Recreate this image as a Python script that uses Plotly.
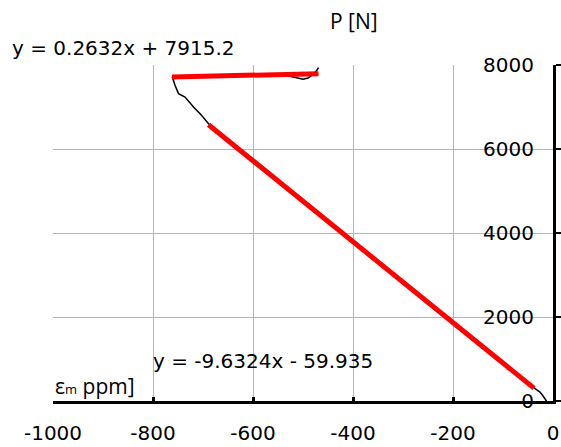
import plotly.graph_objects as go

# Measured curve (strain in ppm vs load in N)
strain = [-13, -17, -21, -26, -36, -100, -200, -300, -400, -500, -600, -689,
          -703, -719, -736, -749, -756, -761, -700, -600, -540, -515, -500,
          -490, -478, -472, -469]
load = [0, 57, 136, 214, 295, 900, 1870, 2830, 3790, 4760, 5720, 6600,
        6802, 7000, 7238, 7319, 7517, 7700, 7730, 7757, 7765, 7700, 7660,
        7690, 7790, 7880, 7940]

# Trend lines (end points)
trend1_x = [-762, -469]
trend1_y = [7715, 7792]
trend2_x = [-689, -38]
trend2_y = [6577, 306]

x_ticks = [-1000, -800, -600, -400, -200, 0]
x_labels = ["-1000", "-800", "-600", "-400", "-200", "0"]
y_ticks = [0, 2000, 4000, 6000, 8000]
y_labels = ["0", "2000", "4000", "6000", "8000"]

eq1 = "y = 0.2632x + 7915.2"
eq2 = "y = -9.6324x - 59.935"
y_title = "P [N]"
x_title = "ε<span style='font-size:13px'>m</span> ppm]"

fig = go.Figure()
fig.add_trace(go.Scatter(x=strain, y=load, mode="lines",
                         line=dict(color="black", width=1.5)))
fig.add_trace(go.Scatter(x=trend1_x, y=trend1_y, mode="lines",
                         line=dict(color="#ff0000", width=5)))
fig.add_trace(go.Scatter(x=trend2_x, y=trend2_y, mode="lines",
                         line=dict(color="#ff0000", width=5)))

tickfont = dict(family="DejaVu Sans", size=20, color="black")

fig.update_layout(
    width=561, height=447,
    margin=dict(l=53, r=8, t=65, b=46),
    plot_bgcolor="white", paper_bgcolor="white",
    showlegend=False,
    xaxis=dict(range=[-1000, 0], tickvals=x_ticks, ticktext=x_labels,
               showgrid=True, gridcolor="#b5b5b5", gridwidth=1,
               showline=True, linecolor="black", linewidth=3,
               ticks="inside", ticklen=4, tickwidth=3, tickcolor="black",
               zeroline=False, tickfont=tickfont, ticklabelstandoff=12,
               automargin=False),
    yaxis=dict(range=[0, 8000], tickvals=y_ticks, ticktext=y_labels,
               side="right", ticklabelposition="inside",
               ticklabeloverflow="allow", ticklabelstandoff=20,
               showgrid=True, gridcolor="#b5b5b5", gridwidth=1,
               showline=True, linecolor="black", linewidth=3,
               ticks="outside", ticklen=5, tickwidth=2, tickcolor="black",
               zeroline=False, tickfont=tickfont, automargin=False),
    annotations=[
        dict(text=eq1, xref="paper", yref="paper", x=-0.086, y=1.0497,
             xanchor="left", yanchor="middle", showarrow=False,
             font=dict(family="DejaVu Sans", size=20, color="black")),
        dict(text=y_title, xref="paper", yref="paper", x=0.602, y=1.13,
             xanchor="center", yanchor="middle", showarrow=False,
             font=dict(family="Open Sans", size=21, color="black")),
        dict(text=eq2, xref="paper", yref="paper", x=0.195, y=0.119,
             xanchor="left", yanchor="middle", showarrow=False,
             font=dict(family="DejaVu Sans", size=20, color="black")),
        dict(text=x_title, xref="paper", yref="paper", x=0.0, y=0.046,
             xanchor="left", yanchor="middle", showarrow=False,
             font=dict(family="Open Sans", size=21, color="black")),
    ],
)

fig.write_html("out.html")
